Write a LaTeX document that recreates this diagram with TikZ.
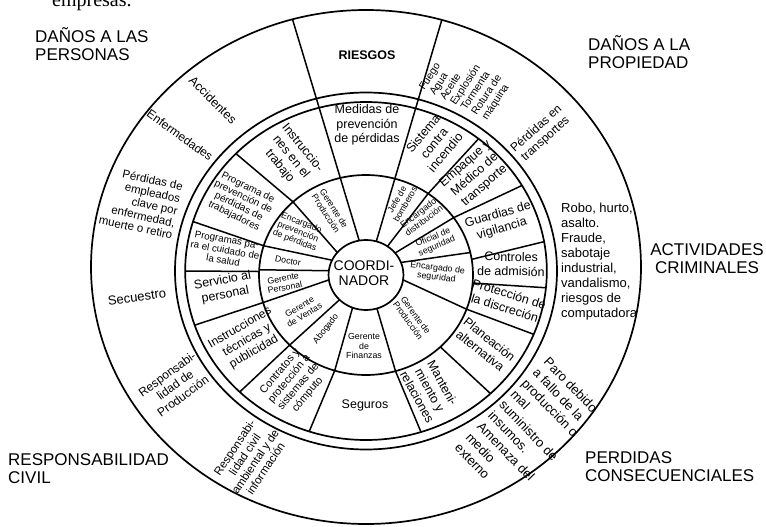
\documentclass[tikz,border=0pt]{standalone}
\usepackage{fontspec}
\setmainfont{Liberation Sans}
\newfontfamily\serifrm{Liberation Serif}
\usetikzlibrary{calc}
\begin{document}
\begin{tikzpicture}[x=1pt,y=-1pt,
  ringline/.style={line width=1.5pt},
  circ/.style={line width=1.7pt},
  big/.style={font=\fontsize{17}{18}\selectfont, inner sep=0pt},
  tA/.style={font=\fontsize{8.8}{9.5}\selectfont, inner sep=0pt, align=center},
  tB/.style={font=\fontsize{12.5}{14.5}\selectfont, inner sep=0pt, align=center},
  tBs/.style={font=\fontsize{10}{10.5}\selectfont, inner sep=0pt, align=center},
  tO/.style={font=\fontsize{12}{13.5}\selectfont, inner sep=0pt, align=center},
]
\useasboundingbox (0,0) rectangle (766,527);
\fill[white] (0,0) rectangle (766,527);

\begin{scope}[shift={(366,271)},xscale=1.07,yscale=-1]
  % rings: coordinator, inner ring, double ring, outer ring
  \draw[circ] (0,-4) circle[radius=35];
  \draw[circ] (0,-4) circle[radius=100];
  \draw[circ] (0,0) circle[radius=169];
  \draw[circ] (0,0) circle[radius=178.5];
  \draw[circ] (0,4) circle[radius=257];
  % the two long dividers of RIESGOS
  \draw[ringline] ($(0,-4)+(100.5:35)$) -- ($(0,4)+(105.5:257)$);
  \draw[ringline] ($(0,-4)+(74:35)$) -- ($(0,4)+(74:257)$);
  % inner ring dividers (angle at coordinator / angle at inner ring)
  \foreach \a/\b in {55/54.5, 39/35, 21/13, -8/-20, -73/-74, -111/-107,
                     -135/-135.5, 188/196, 173/177, 155/163, 140/133}
    \draw[ringline] ($(0,-4)+(\a:35)$) -- ($(0,-4)+(\b:100)$);
  % middle ring dividers (angle at inner ring / angle at double ring)
  \foreach \a/\b in {54.5/51.5, 35/30.4, 9/10, -4.6/-5.7, -20/-22, -46/-46.5,
                     -74/-72.3, -107/-108.3, -135.5/-134.3, 196/198.7,
                     178/180, 163/163, 133/136}
    \draw[ringline] ($(0,-4)+(\a:100)$) -- (\b:169);
\end{scope}

% top cut text
\node[font=\serifrm\fontsize{20}{20}\selectfont, anchor=base west, inner sep=0pt] (emp) at (52,7) {empresas. \textsuperscript{26}};

% category labels
\node[big, align=left, anchor=west] (cat1) at (35,44) {DAÑOS A LAS\\PERSONAS};
\node[big, align=left, anchor=west] (cat2) at (588,52) {DAÑOS A LA\\PROPIEDAD};
\node[big, align=center] (cat3) at (707,259) {ACTIVIDADES\\CRIMINALES};
\node[big, align=left, anchor=west] (cat4) at (8,469) {RESPONSABILIDAD\\CIVIL};
\node[big, align=left, anchor=west] (cat5) at (585,467) {PERDIDAS\\CONSECUENCIALES};

% outer band
\node[font=\bfseries\fontsize{12.5}{13}\selectfont, inner sep=0pt] (ries) at (367,55) {RIESGOS};
\node[font=\fontsize{10.5}{11.5}\selectfont, inner sep=0pt, align=left, rotate=57, anchor=north west] (fuego) at (418,87)
  {Fuego\\\hspace*{1.5pt}Agua\\\hspace*{3pt}Aceite\\\hspace*{4.5pt}Explosión\\\hspace*{6pt}Tormenta\\\hspace*{7.5pt}Rotura de\\\hspace*{9pt}máquina};
\node[tO, rotate=42] (transp) at (541,134) {Pérdidas en\\transportes};
\node[font=\fontsize{13}{15}\selectfont, inner sep=0pt, align=left, anchor=west] (robo) at (561,262) {Robo, hurto,\\asalto.\\Fraude,\\sabotaje\\industrial,\\vandalismo,\\riesgos de\\computadora};
\node[font=\fontsize{13}{15.5}\selectfont, inner sep=0pt, align=left, rotate=-46, anchor=north west] (paro) at (550,356) {Paro debido\\a fallo de la\\producción o\\mal\\suministro de\\insumos.\\Amenaza del\\medio\\externo};
\node[tO, font=\fontsize{12.5}{13}\selectfont, rotate=-45] (acc) at (213,100) {Accidentes};
\node[tO, rotate=-36] (enf) at (180,135) {Enfermedades};
\node[font=\fontsize{11.5}{12.5}\selectfont, inner sep=0pt, align=right, rotate=-12] (perd) at (141,203) {Pérdidas de\\empleados\\clave por\\enfermedad,\\muerte o retiro};
\node[tO, font=\fontsize{13}{14}\selectfont, rotate=8] (secu) at (137,297) {Secuestro};
\node[tO, rotate=36] (rprod) at (175,385) {Responsabi-\\lidad de\\Producción};
\node[tO, font=\fontsize{11.5}{12.5}\selectfont, rotate=56] (rciv) at (250,458) {Responsabi-\\lidad civil\\ambiental y de\\información};

% ring B
\node[tB] (med) at (367,125) {Medidas de\\prevención\\de pérdidas};
\node[tB, rotate=-51] (instr) at (291,157) {Instruccio-\\nes en el\\trabajo};
\node[tBs, rotate=-26] (progp) at (241,202) {Programa de\\prevención de\\pérdidas de\\trabajadores};
\node[tBs, font=\fontsize{9.8}{10.5}\selectfont, rotate=-10] (progs) at (225,250) {Programas pa-\\ra el cuidado de\\la salud};
\node[tB, rotate=11] (serv) at (224,288) {Servicio al\\personal};
\node[tB, font=\fontsize{12}{14}\selectfont, rotate=30] (itec) at (247,340) {Instrucciones\\técnicas y\\publicidad};
\node[tB, font=\fontsize{10.8}{12}\selectfont, rotate=50] (contr) at (294,383) {Contratos y\\protección a\\sistemas de\\cómputo};
\node[tB] (seg) at (365,405) {Seguros};
\node[tB, rotate=-61] (mant) at (430,390) {Manteni-\\miento y\\relaciones};
\node[tB, rotate=-39] (plan) at (485,345) {Planeación\\alternativa};
\node[tB, rotate=-17] (prot) at (507,301) {Protección de\\la discreción};
\node[tB, rotate=-1] (ctrl) at (511,264) {Controles\\de admisión};
\node[tB, rotate=16] (guard) at (500,222) {Guardias de\\vigilancia};
\node[tB, rotate=41] (emp2) at (475,175) {Empaque y\\Médico de\\transporte};
\node[tB, rotate=50] (sist) at (434,143) {Sistema\\contra\\incendio};

% ring A
\node[tA, rotate=-57] (gp1) at (330,211) {Gerente de\\Producción};
\node[tA, rotate=60] (jefe) at (401,202) {Jefe de\\bomberos};
\node[tA, rotate=37] (edist) at (421,217) {Encargado\\distribución};
\node[tA, rotate=23] (ofic) at (435,242) {Oficial de\\seguridad};
\node[tA, rotate=-7] (eseg) at (437,273) {Encargado de\\seguridad};
\node[tA, rotate=-54] (gp2) at (412,318) {Gerente de\\Producción};
\node[tA] (gfin) at (364,346) {Gerente\\de\\Finanzas};
\node[tA, rotate=52] (abog) at (326,329) {Abogado};
\node[tA, rotate=31] (gven) at (302,311) {Gerente\\de Ventas};
\node[tA, rotate=11] (gper) at (284,283) {Gerente\\Personal};
\node[tA, rotate=-11] (doc) at (288,261) {Doctor};
\node[tA, rotate=-21] (eprev) at (298,232) {Encargado\\prevención\\de pérdidas};
\node[font=\fontsize{14}{15}\selectfont, inner sep=0pt, align=center] (coord) at (364,273) {COORDI-\\NADOR};
\end{tikzpicture}
\end{document}
